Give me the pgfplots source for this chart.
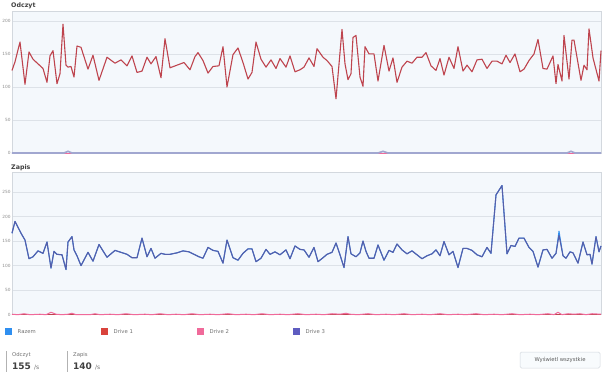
\documentclass[border=0pt]{standalone}
\usepackage{pgfplots}
\pgfplotsset{compat=1.18}
\usepackage{pgfplotstable}
\usepackage{fontspec}
\setmainfont{DejaVu Sans}
\definecolor{bgc}{HTML}{F4F8FC}
\definecolor{gridc}{HTML}{DDE2E8}
\definecolor{bordc}{HTML}{D3D8DE}
\definecolor{razem}{HTML}{2F8FF0}
\definecolor{d1line}{RGB}{190,68,78}
\definecolor{d1leg}{HTML}{D9433C}
\definecolor{d2}{HTML}{F06A9A}
\definecolor{d3line}{RGB}{85,95,170}
\definecolor{d3leg}{HTML}{5E5CC0}
\definecolor{txt}{HTML}{707070}
\definecolor{ttl}{HTML}{404040}

\pgfplotstableread{
x r
12 125
15 138
20 168
25 104
29 153
33 142
38 135
43 128
47 107
50 147
53 155
57 105
60 120
63 195
66 133
68 130
71 131
74 115
77 162
81 160
88 127
93 148
99 110
107 145
115 136
121 141
127 132
132 147
137 122
142 124
147 145
151 135
156 146
161 114
165 173
170 129
184 137
190 126
195 146
198 152
203 140
208 121
213 131
219 132
223 161
227 100
233 149
238 159
243 137
248 112
252 122
256 168
261 142
266 130
271 141
276 128
280 143
286 130
290 147
295 123
300 126
304 130
309 144
314 131
317 158
323 145
327 140
332 131
336 82
342 187
345 135
348 111
351 120
353 175
356 178
360 115
363 101
365 161
369 150
374 150
378 109
384 163
389 124
393 144
397 107
402 130
407 139
412 136
417 145
422 145
426 152
431 132
436 125
440 143
444 118
449 145
454 128
458 161
463 124
467 133
472 123
477 141
482 142
487 128
492 139
497 139
502 135
506 148
510 137
515 150
520 123
524 127
529 140
534 150
538 172
543 128
547 127
553 147
556 105
558 134
562 109
564 178
569 112
572 171
574 171
581 110
584 133
587 126
589 188
593 144
599 109
601 155
}\readtable

\pgfplotstableread{
x w d
12 166 166
15 190 190
21 166 166
25 152 152
29 114 114
33 118 118
38 130 130
43 125 125
47 148 148
51 95 95
54 129 129
57 123 123
62 122 122
66 92 92
68 148 148
72 159 159
74 132 132
77 120 120
81 100 100
88 127 127
93 109 109
99 143 143
107 117 117
115 131 131
121 127 127
127 123 123
132 116 116
137 116 116
142 156 156
147 118 118
151 135 135
155 115 115
161 125 125
165 123 123
170 123 123
177 126 126
183 130 130
189 128 128
195 122 122
199 118 118
203 115 115
208 137 137
213 131 131
218 129 129
223 105 105
227 152 152
233 116 116
238 111 111
243 125 125
248 134 134
252 134 134
256 108 108
261 115 115
266 133 133
270 123 123
275 128 128
280 122 122
286 132 132
290 114 114
295 140 140
300 133 133
304 132 132
309 117 117
314 137 137
318 108 108
323 116 116
327 123 123
332 127 127
336 146 146
340 122 122
344 96 96
348 159 159
351 124 124
356 118 118
360 126 126
363 150 150
366 129 129
369 115 115
374 115 115
378 142 142
384 111 111
389 131 131
393 127 127
397 144 144
402 132 132
407 124 124
412 130 130
417 122 122
422 114 114
427 120 120
432 124 124
436 132 132
440 120 120
444 149 149
449 122 122
453 129 129
458 96 96
463 135 135
467 135 135
472 131 131
477 122 122
482 118 118
487 137 137
491 125 125
496 244 244
502 263 263
507 124 124
511 141 141
515 139 139
519 156 156
524 156 156
529 137 137
533 129 129
538 97 97
543 132 132
547 133 133
552 115 115
556 125 125
559 170 162
563 120 120
566 115 115
570 128 128
573 126 126
578 105 105
583 148 148
587 122 122
590 123 123
592 103 103
596 159 159
599 128 128
601 140 140
}\writetable

\pgfplotsset{
  mon/.style={
    scale only axis, width=589pt, clip=false,
    xmin=12, xmax=601, ymin=0,
    xtick=\empty,
    ymajorgrids, grid style={draw=gridc, line width=0.5pt},
    axis line style={draw=bordc, line width=0.5pt},
    axis background/.style={fill=bgc},
    major tick length=0pt,
    /pgf/number format/assume math mode=true,
    yticklabel style={font=\fontsize{4.3}{5}\selectfont, text=black!45, inner sep=1.3pt},
  }
}

\begin{document}
\begin{tikzpicture}[x=1pt,y=1pt]
\useasboundingbox (0,-375) rectangle (605,0);
% top
\node[anchor=west, inner sep=0pt, text=ttl] at (11,-5.8) {\fontsize{6.3}{7}\selectfont\bfseries Odczyt};
\begin{axis}[mon, at={(12pt,-153pt)}, anchor=south west, height=142pt, ymax=215, ytick={0,50,100,150,200}]
\addplot[d2, line width=1pt] coordinates {(12,0)(601,0)};
\addplot[d3line!55!white, line width=1.7pt] coordinates {(12,0)(64,0)(68,2.5)(72,0)(378,0)(383,2.5)(388,0)(567,0)(571,2.5)(575,0)(601,0)};
\addplot[d1line, line width=1.1pt, line join=round] table[x=x,y=r] {\readtable};
\end{axis}
% bottom
\node[anchor=west, inner sep=0pt, text=ttl] at (11,-167.5) {\fontsize{6.3}{7}\selectfont\bfseries Zapis};
\begin{axis}[mon, at={(12pt,-314.7pt)}, anchor=south west, height=142.4pt, ymax=290, ytick={0,50,100,150,200,250}]
\addplot[d1line, line width=1pt] coordinates {(12,0)(601,0)};
\addplot[d2, line width=1pt, line join=round] coordinates {(12,1)(18,0)(24,2)(30,0)(40,1)(46,0)(51,5)(56,1)(62,0)(68,1)(72,3)(76,0)(90,0)(95,2)(100,0)(110,1)(118,0)(126,2)(134,0)(145,1)(152,0)(160,2)(168,0)(176,1)(184,0)(192,2)(200,0)(210,1)(218,0)(228,2)(236,0)(246,1)(254,0)(262,2)(270,0)(280,1)(288,0)(298,2)(306,0)(316,1)(324,0)(332,2)(340,1)(346,3)(350,1)(358,0)(368,2)(376,0)(386,1)(394,0)(404,2)(412,0)(422,1)(430,0)(440,2)(448,0)(458,1)(466,0)(476,2)(484,0)(494,1)(502,0)(512,2)(520,0)(530,1)(538,0)(548,2)(554,0)(558,5)(562,0)(568,2)(574,1)(580,2)(586,0)(592,2)(601,1)};
\addplot[razem, line width=1pt, line join=round] table[x=x,y=w] {\writetable};
\addplot[d3line, line width=1.1pt, line join=round] table[x=x,y=d] {\writetable};
\end{axis}
% legend
\fill[razem] (5,-328) rectangle (12,-335);
\node[anchor=west, inner sep=0pt, text=txt] at (17.5,-331.5) {\fontsize{5.3}{6}\selectfont Razem};
\fill[d1leg] (101,-328) rectangle (108,-335);
\node[anchor=west, inner sep=0pt, text=txt] at (113.5,-331.5) {\fontsize{5.3}{6}\selectfont Drive 1};
\fill[d2] (197,-328) rectangle (204,-335);
\node[anchor=west, inner sep=0pt, text=txt] at (209.5,-331.5) {\fontsize{5.3}{6}\selectfont Drive 2};
\fill[d3leg] (293,-328) rectangle (300,-335);
\node[anchor=west, inner sep=0pt, text=txt] at (305.5,-331.5) {\fontsize{5.3}{6}\selectfont Drive 3};
% stats
\fill[black!30] (5.5,-351) rectangle (7,-372);
\node[anchor=west, inner sep=0pt, text=txt] at (12,-355.5) {\fontsize{5.3}{6}\selectfont Odczyt};
\node[anchor=base west, inner sep=0pt, text=ttl] at (12,-369.5) {\fontsize{9}{10}\selectfont\bfseries 155\ \mdseries\fontsize{6}{7}\selectfont\color{txt}/s};
\fill[black!30] (66.5,-351) rectangle (68,-372);
\node[anchor=west, inner sep=0pt, text=txt] at (73,-355.5) {\fontsize{5.3}{6}\selectfont Zapis};
\node[anchor=base west, inner sep=0pt, text=ttl] at (73,-369.5) {\fontsize{9}{10}\selectfont\bfseries 140\ \mdseries\fontsize{6}{7}\selectfont\color{txt}/s};
% button
\draw[draw=bordc, fill=bgc!60!white, rounded corners=1.5pt, line width=0.5pt] (520,-352) rectangle (600,-368);
\node[inner sep=0pt, text=black!65] at (560,-360) {\fontsize{5.3}{6}\selectfont Wyświetl wszystkie};
\end{tikzpicture}
\end{document}
